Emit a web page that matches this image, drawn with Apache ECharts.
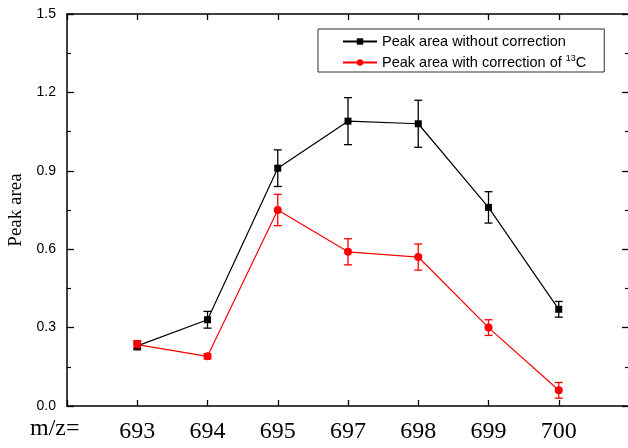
<!DOCTYPE html>
<html><head><meta charset="utf-8">
<script src="https://cdn.jsdelivr.net/npm/echarts@6/dist/echarts.min.js"></script>
<style>html,body{margin:0;padding:0;background:#fff}#c{width:628px;height:448px}</style>
</head><body><div id="c"></div>
<script>
var categories = ['693','694','695','697','698','699','700'];
var blackValues = [0.23, 0.33, 0.91, 1.09, 1.08, 0.76, 0.37];
var blackErrors = [0.015, 0.032, 0.07, 0.09, 0.09, 0.06, 0.03];
var redValues = [0.235, 0.19, 0.75, 0.59, 0.57, 0.30, 0.06];
var redErrors = [0.015, 0.01, 0.06, 0.05, 0.05, 0.03, 0.03];
var blackName = 'Peak area without correction';
var redName = 'Peak area with correction of 13C';

function pts(v){ return v.map(function(y,i){ return [i+1, y]; }); }
function errs(v,e){ return v.map(function(y,i){ return [i+1, y-e[i], y+e[i]]; }); }
function errRender(color){
  return function(params, api){
    var x = api.value(0), lo = api.coord([x, api.value(1)]), hi = api.coord([x, api.value(2)]);
    var w = 4;
    var st = {stroke: color, lineWidth: 1.3};
    return {type:'group', children:[
      {type:'line', shape:{x1:lo[0],y1:lo[1],x2:hi[0],y2:hi[1]}, style:st},
      {type:'line', shape:{x1:lo[0]-w,y1:lo[1],x2:lo[0]+w,y2:lo[1]}, style:st},
      {type:'line', shape:{x1:hi[0]-w,y1:hi[1],x2:hi[0]+w,y2:hi[1]}, style:st}
    ]};
  };
}
var chart = echarts.init(document.getElementById('c'));
chart.setOption({
  animation:false,
  grid:{left:67, top:14, width:562, bottom:42, outerBoundsMode:'none', containLabel:false},
  legend:{
    orient:'vertical', left:318, top:29, itemWidth:34, itemHeight:8, itemGap:5,
    padding:[5,18,2,24], borderColor:'#333', borderWidth:1,
    data:[blackName, redName],
    formatter:function(n){ return n === redName ? '{n|Peak area with correction of }{sup|13}{n|C}' : '{n|' + n + '}'; },
    textStyle:{fontFamily:'Liberation Sans', fontSize:14.5, color:'#000',
      rich:{n:{fontFamily:'Liberation Sans', fontSize:14.5, color:'#000'},
            sup:{fontFamily:'Liberation Sans', fontSize:9, color:'#000', verticalAlign:'top', padding:[0,0,8,0]}}}
  },
  xAxis:[{
    type:'value', min:0, max:8, interval:1, position:'bottom',
    axisLine:{onZero:false, lineStyle:{color:'#000', width:1.5}},
    axisTick:{inside:true, length:6, lineStyle:{color:'#000', width:1.3}},
    splitLine:{show:false},
    axisLabel:{margin:14, fontFamily:'Liberation Serif', fontSize:24, color:'#000',
      formatter:function(v){ return (v>=1 && v<=7) ? categories[v-1] : ''; }}
  },{
    type:'value', min:0, max:8, interval:1, position:'top',
    axisLine:{onZero:false, lineStyle:{color:'#000', width:1.5}},
    axisTick:{inside:true, length:6, lineStyle:{color:'#000', width:1.3}},
    splitLine:{show:false}, axisLabel:{show:false}
  }],
  yAxis:[{
    type:'value', min:0, max:1.5, interval:0.3, position:'left',
    name:'Peak area', nameLocation:'middle', nameGap:40,
    nameTextStyle:{fontFamily:'Liberation Serif', fontSize:19, color:'#000'},
    axisLine:{show:true, onZero:false, lineStyle:{color:'#000', width:1.5}},
    axisTick:{inside:true, length:7, lineStyle:{color:'#000', width:1.3}},
    minorTick:{show:true, splitNumber:2, length:4, lineStyle:{color:'#000', width:1.2}},
    splitLine:{show:false},
    axisLabel:{margin:11, fontFamily:'Liberation Sans', fontSize:14, color:'#000',
      formatter:function(v){ return v.toFixed(1); }}
  },{
    type:'value', min:0, max:1.5, interval:0.3, position:'right',
    axisLine:{show:true, onZero:false, lineStyle:{color:'#000', width:1.5}},
    axisTick:{inside:true, length:7, lineStyle:{color:'#000', width:1.3}},
    minorTick:{show:true, splitNumber:2, length:4, lineStyle:{color:'#000', width:1.2}},
    splitLine:{show:false}, axisLabel:{show:false}
  }],
  graphic:[{type:'text', left:30, top:417,
    style:{text:'m/z=', fontFamily:'Liberation Serif', fontSize:24, fill:'#000'}}],
  series:[
    {name:blackName, type:'line', data:pts(blackValues), symbol:'rect', symbolSize:7,
      itemStyle:{color:'#000'}, lineStyle:{color:'#000', width:1.2}, z:3},
    {name:redName, type:'line', data:pts(redValues), symbol:'circle', symbolSize:8,
      itemStyle:{color:'#f00'}, lineStyle:{color:'#f00', width:1.2}, z:4},
    {type:'custom', data:errs(blackValues, blackErrors), renderItem:errRender('#000'),
      encode:{x:0, y:[1,2]}, z:2, silent:true},
    {type:'custom', data:errs(redValues, redErrors), renderItem:errRender('#f00'),
      encode:{x:0, y:[1,2]}, z:2, silent:true}
  ]
});
</script></body></html>
